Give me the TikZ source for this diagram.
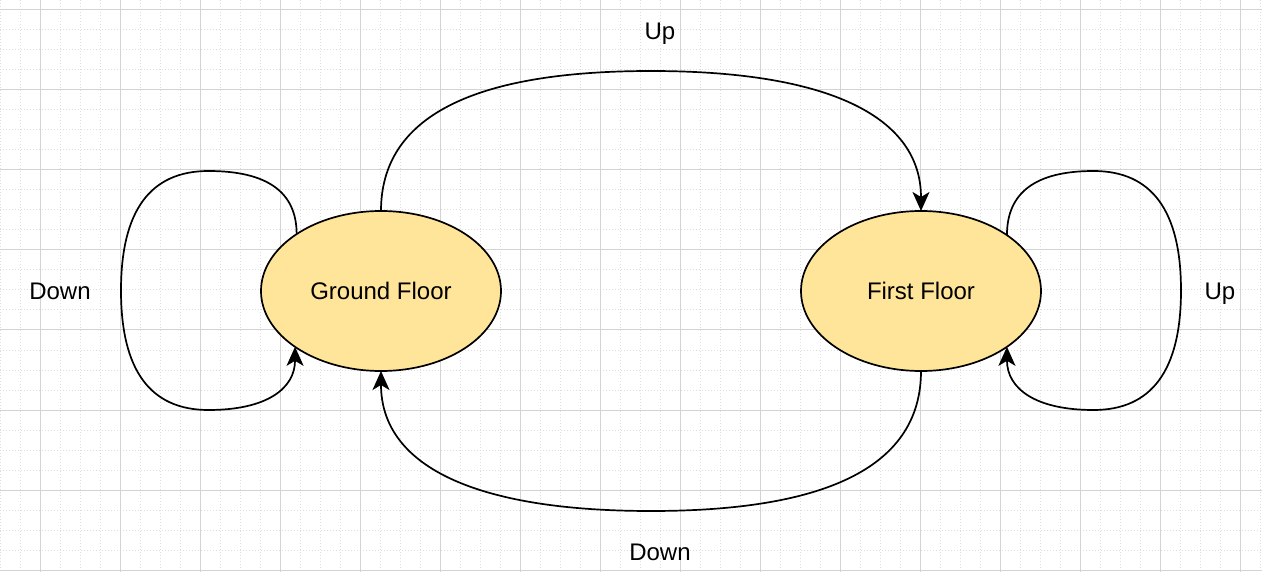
\documentclass[tikz,border=0pt]{standalone}
\usepackage{fontspec}
\setmainfont{Liberation Sans}
\usetikzlibrary{shapes.geometric,arrows.meta}
\definecolor{statefill}{HTML}{FFE599}
\definecolor{gridmajor}{HTML}{D3D3D3}
\definecolor{gridminor}{HTML}{DEDEDE}
\tikzset{
  statenode/.style={ellipse, draw=black, line width=1.7pt, fill=statefill,
    minimum width=240pt, minimum height=160pt, inner sep=0pt, outer sep=0pt,
    font=\fontsize{24}{28}\selectfont},
  edgelabel/.style={font=\fontsize{24}{28}\selectfont, inner sep=0pt, anchor=base},
  conn/.style={draw=black, line width=1.7pt,
    -{Stealth[length={19pt 0},width={17pt 0},inset={5pt 0}]}},
  majorline/.style={draw=gridmajor, line width=1pt},
  minorline/.style={draw=gridminor, line width=1pt, dash pattern=on 1pt off 2pt},
}
\begin{document}
\begin{tikzpicture}[x=1pt,y=-1pt]
\useasboundingbox (0,0) rectangle (1262,572);
\fill[white] (0,0) rectangle (1262,572);
% grid
\foreach \x in {0,20,...,1260} {\draw[minorline] (\x,0) -- (\x,572);}
\foreach \y in {10,30,...,570} {\draw[minorline] (0,\y) -- (1262,\y);}
\foreach \x in {40,120,...,1240} {\draw[majorline] (\x,0) -- (\x,572);}
\foreach \y in {10,90,...,570} {\draw[majorline] (0,\y) -- (1262,\y);}
% states
\node[statenode] (g) at (381,291) {Ground Floor};
\node[statenode] (f) at (921,291) {First Floor};
% waypoints
\coordinate (tmid) at (651,71);
\coordinate (bmid) at (651,511);
\coordinate (lt) at (208.5,171);
\coordinate (ll) at (121,290.5);
\coordinate (lb) at (208.5,410);
\coordinate (rt) at (1093.5,171);
\coordinate (rr) at (1181,290.5);
\coordinate (rb) at (1093.5,410);
% connectors
\draw[conn] (g.north) .. controls +(0,-93.33) and +(-180,0) .. (tmid)
  .. controls +(180,0) and +(0,-93.33) .. (f.north);
\draw[conn] (f.south) .. controls +(0,93.33) and +(180,0) .. (bmid)
  .. controls +(-180,0) and +(0,93.33) .. (g.south);
\draw[conn] (g.146.4) .. controls +(0,-42.33) and +(58.33,0) .. (lt)
  .. controls +(-58.33,0) and +(0,-79.67) .. (ll)
  .. controls +(0,79.67) and +(-58.33,0) .. (lb)
  .. controls +(58.33,0) and +(0,41.67) .. (g.213.6);
\draw[conn] (f.33.6) .. controls +(0,-42.33) and +(-58.33,0) .. (rt)
  .. controls +(58.33,0) and +(0,-79.67) .. (rr)
  .. controls +(0,79.67) and +(58.33,0) .. (rb)
  .. controls +(-58.33,0) and +(0,41.67) .. (f.-33.6);
% labels
\node[edgelabel] (lup) at (660,39.5) {Up};
\node[edgelabel] (ldown) at (660,560) {Down};
\node[edgelabel] (lgd) at (60,300) {Down};
\node[edgelabel] (lfu) at (1220,300) {Up};
\end{tikzpicture}
\end{document}
